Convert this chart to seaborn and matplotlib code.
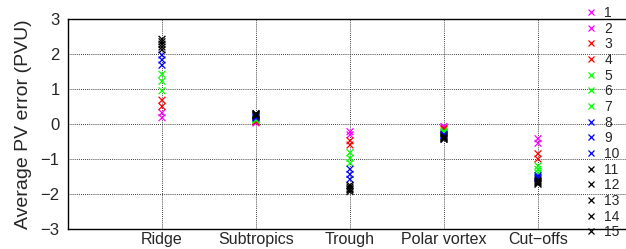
import pandas as pd
import seaborn as sns
import matplotlib.pyplot as plt

# === Dati ===
categories = ["Ridge", "Subtropics", "Trough", "Polar vortex", "Cut\u2212offs"]
series = [str(i) for i in range(1, 16)]

ridge = [0.18, 0.32, 0.50, 0.68, 0.95, 1.22, 1.42, 1.68, 1.83, 1.97, 2.12, 2.20, 2.28, 2.35, 2.42]
subtropics = [0.03, 0.05, 0.07, 0.09, 0.11, 0.13, 0.15, 0.17, 0.19, 0.21, 0.23, 0.25, 0.27, 0.28, 0.30]
trough = [-0.22, -0.31, -0.48, -0.60, -0.82, -0.98, -1.12, -1.29, -1.44, -1.58, -1.75, -1.80, -1.85, -1.88, -1.93]
polar_vortex = [-0.07, -0.10, -0.13, -0.16, -0.20, -0.23, -0.26, -0.30, -0.32, -0.34, -0.36, -0.38, -0.40, -0.42, -0.44]
cut_offs = [-0.42, -0.55, -0.85, -1.00, -1.20, -1.30, -1.40, -1.48, -1.52, -1.56, -1.60, -1.63, -1.66, -1.69, -1.72]

series_colors = ["#ff00ff"] * 2 + ["#ff0000"] * 2 + ["#00ff00"] * 3 + ["#0000ff"] * 3 + ["#000000"] * 5

# === Tabella long-form ===
rows = []
for cat, vals in zip(categories, [ridge, subtropics, trough, polar_vortex, cut_offs]):
    for s, v in zip(series, vals):
        rows.append({"region": cat, "series": s, "value": v})
df = pd.DataFrame(rows)

sns.set_style("white")
plt.rcParams['font.family'] = ['Liberation Sans', 'DejaVu Sans']

fig = plt.figure(figsize=(6.26, 2.49), dpi=100)
ax = fig.add_axes([68 / 626, 20 / 249, 564 / 626, 210 / 249])

sns.scatterplot(data=df, x="region", y="value", hue="series", hue_order=series,
                palette=dict(zip(series, series_colors)), marker="x", s=24,
                linewidth=0.9, ax=ax, legend=True, zorder=3)

ax.set_xlim(-1, 5)
ax.set_ylim(-3, 3)
ax.set_yticks(range(-3, 4))
ax.set_yticklabels([str(t).replace('-', '\u2212') for t in range(-3, 4)])
ax.set_xlabel("")
ax.set_ylabel("Average PV error (PVU)", fontsize=14, labelpad=6)
ax.grid(True, linestyle=(0, (1, 1.5)), color="black", linewidth=0.6)
ax.tick_params(axis="y", labelsize=12, direction="in", length=3, pad=6)
ax.tick_params(axis="x", labelsize=11.5, direction="in", length=3, pad=2)
for sp in ax.spines.values():
    sp.set_color("black")
    sp.set_linewidth(1.0)

handles, labels = ax.get_legend_handles_labels()
ax.legend(handles, labels, loc="upper left", bbox_to_anchor=(585 / 626, 0.976),
          bbox_transform=fig.transFigure, frameon=False, fontsize=10,
          borderpad=0, borderaxespad=0, handlelength=0.8, handletextpad=0.6,
          labelspacing=0.12)

fig.savefig("out.png", dpi=100)
